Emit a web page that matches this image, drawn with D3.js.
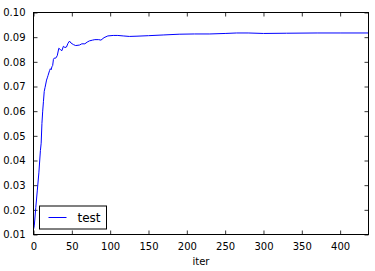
<!DOCTYPE html>
<html>
<head>
<meta charset="utf-8">
<script src="https://cdn.jsdelivr.net/npm/d3@7"></script>
<style>
    body { margin: 0; background: #fff; }
    text { font-family: "DejaVu Sans", sans-serif; fill: #000; }
</style>
</head>
<body>
<div id="chart"></div>
<script>
// values
var iters = [0, 1, 3, 5, 7, 9, 10, 11, 12, 13, 14, 15, 16, 17, 18, 19, 21, 22, 23, 24,
    25, 26, 27, 29, 31, 33, 35, 37, 39, 41, 43, 45, 47, 49, 52, 55, 60, 63, 67, 70,
    73, 77, 80, 85, 88, 92, 97, 104, 110, 117, 125, 135, 150, 170, 190, 210, 230, 250,
    265, 280, 300, 330, 370, 400, 437];
var test = [0.012, 0.0135, 0.021, 0.028, 0.035, 0.044, 0.047, 0.055, 0.060, 0.064,
    0.068, 0.0695, 0.071, 0.0726, 0.0735, 0.0745, 0.0765, 0.0772, 0.0768, 0.078,
    0.0785, 0.081, 0.0815, 0.0815, 0.0825, 0.0855, 0.085, 0.0845, 0.0863, 0.0858,
    0.0860, 0.0875, 0.0884, 0.0876, 0.0870, 0.0866, 0.0868, 0.0873, 0.0873, 0.0880,
    0.0885, 0.0888, 0.0890, 0.0890, 0.0888, 0.0898, 0.0905, 0.0907, 0.0907, 0.0905,
    0.0903, 0.0904, 0.0906, 0.0909, 0.0912, 0.0913, 0.0913, 0.0915, 0.0917, 0.0917,
    0.0915, 0.0916, 0.0917, 0.0917, 0.0917];
var xTicks = [0, 50, 100, 150, 200, 250, 300, 350, 400];
var yTicks = [0.01, 0.02, 0.03, 0.04, 0.05, 0.06, 0.07, 0.08, 0.09, 0.10];

var margin = { top: 12.5, right: 6.5, bottom: 36.5, left: 33.5 },
    width = 375 - margin.left - margin.right,
    height = 271 - margin.top - margin.bottom;

var svg = d3.select("#chart").append("svg")
    .attr("width", 375)
    .attr("height", 271)
    .append("g")
    .attr("transform", "translate(" + margin.left + "," + margin.top + ")");

var x = d3.scaleLinear().domain([0, 437]).range([0, width]);
var y = d3.scaleLinear().domain([0.01, 0.10]).range([height, 0]);

// ticks on all four sides, pointing inward
function style_axis(g) {
    g.select(".domain").remove();
    g.selectAll("line").attr("stroke", "#000").attr("stroke-width", 0.8);
    g.selectAll("text").attr("font-size", "10px").attr("font-family", "DejaVu Sans");
}

svg.append("g")
    .attr("transform", "translate(0," + height + ")")
    .call(d3.axisBottom(x).tickValues(xTicks).tickSize(-4).tickPadding(8))
    .call(style_axis);
svg.append("g")
    .call(d3.axisTop(x).tickValues(xTicks).tickSize(-4).tickFormat(""))
    .call(style_axis);
svg.append("g")
    .call(d3.axisLeft(y).tickValues(yTicks).tickSize(-4).tickPadding(8)
        .tickFormat(d3.format(".2f")))
    .call(style_axis);
svg.append("g")
    .attr("transform", "translate(" + width + ",0)")
    .call(d3.axisRight(y).tickValues(yTicks).tickSize(-4).tickFormat(""))
    .call(style_axis);

var line = d3.line()
    .x(function(d, i) { return x(iters[i]); })
    .y(function(d) { return y(d); });

svg.append("path")
    .datum(test)
    .attr("fill", "none")
    .attr("stroke", "#0000ff")
    .attr("stroke-width", 1)
    .attr("d", line);

svg.append("rect")
    .attr("width", width)
    .attr("height", height)
    .attr("fill", "none")
    .attr("stroke", "#000")
    .attr("stroke-width", 1);

svg.append("text")
    .attr("x", width / 2)
    .attr("y", height + 30)
    .attr("text-anchor", "middle")
    .attr("font-size", "10px")
    .text("iter");

// legend
var legend = svg.append("g").attr("transform", "translate(6,-0.5)");
legend.append("rect")
    .attr("x", 0)
    .attr("y", 194)
    .attr("width", 67)
    .attr("height", 23)
    .attr("fill", "#fff")
    .attr("stroke", "#000")
    .attr("stroke-width", 1);
legend.append("line")
    .attr("x1", 9).attr("x2", 27)
    .attr("y1", 205.5).attr("y2", 205.5)
    .attr("stroke", "#0000ff")
    .attr("stroke-width", 1);
legend.append("text")
    .attr("x", 38)
    .attr("y", 210)
    .attr("font-size", "12px")
    .text("test");
</script>
</body>
</html>
